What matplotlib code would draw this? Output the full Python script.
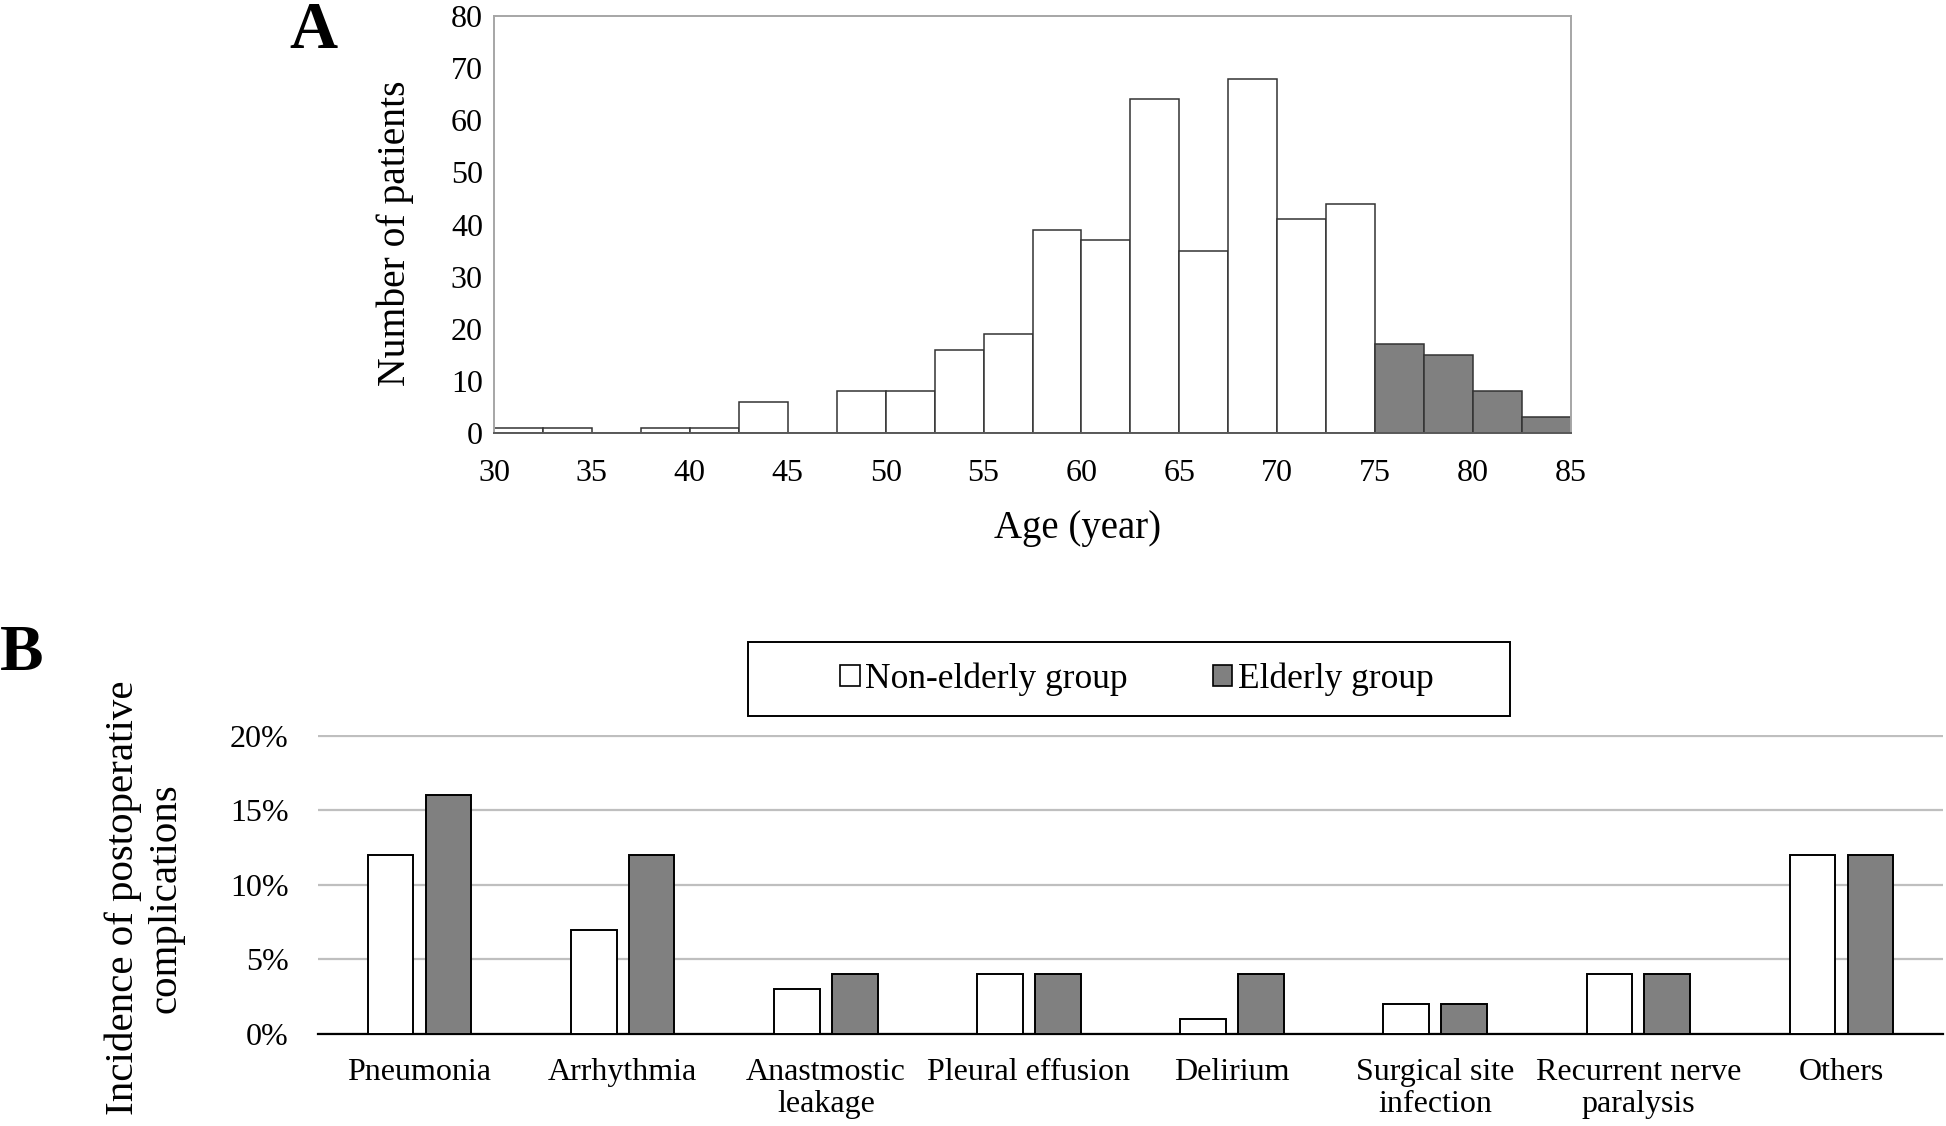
import numpy as np
import matplotlib
matplotlib.use("Agg")
import matplotlib.pyplot as plt
from matplotlib.patches import Patch, Rectangle
from matplotlib.ticker import FuncFormatter

plt.rcParams['font.family'] = ['Liberation Serif', 'DejaVu Serif']

# panel A: age histogram, 2.5-year bins from 30 to 85
age_bins = np.arange(30, 85, 2.5)
patients = [1, 1, 0, 1, 1, 6, 0, 8, 8, 16, 19, 39, 37, 64, 35, 68, 41, 44, 17, 15, 8, 3]
elderly_cut = 75
age_ticks = [30, 35, 40, 45, 50, 55, 60, 65, 70, 75, 80, 85]
count_ticks = [0, 10, 20, 30, 40, 50, 60, 70, 80]

# panel B: postoperative complications (%)
complications = ["Pneumonia", "Arrhythmia", "Anastmostic\nleakage", "Pleural effusion",
                 "Delirium", "Surgical site\ninfection", "Recurrent nerve\nparalysis", "Others"]
non_elderly = [12, 7, 3, 4, 1, 2, 4, 12]
elderly = [16, 12, 4, 4, 4, 2, 4, 12]
pct_ticks = [0, 5, 10, 15, 20]

W, H = 1946, 1126
GRAY = '#808080'
EDGE = '#333333'

fig = plt.figure(figsize=(W / 100, H / 100), dpi=100)

# ---- panel A
axA = fig.add_axes([494 / W, 1 - 433 / H, (1571 - 494) / W, (433 - 16) / H])
colors = ['white' if a < elderly_cut else GRAY for a in age_bins]
axA.bar(age_bins, patients, width=2.5, align='edge', color=colors,
        edgecolor=EDGE, linewidth=1.1, zorder=2)
axA.set_xlim(30, 85)
axA.set_ylim(0, 80)
axA.set_xticks(age_ticks)
axA.set_yticks(count_ticks)
axA.tick_params(axis='both', length=0, labelsize=23)
axA.tick_params(axis='x', pad=19)
axA.tick_params(axis='y', pad=8)
for s in ['left', 'top', 'right']:
    axA.spines[s].set_color('#A6A6A6')
    axA.spines[s].set_linewidth(1.4)
axA.spines['bottom'].set_color('#595959')
axA.spines['bottom'].set_linewidth(1.4)
axA.set_xlabel("Age (year)", fontsize=28)
axA.xaxis.set_label_coords(0.542, -0.185)
axA.set_ylabel("Number of patients", fontsize=28.5)
axA.yaxis.set_label_coords(-0.074, 0.48)

fig.text(313 / W, 1 - 32 / H, "A", ha='center', va='center', fontsize=48, weight='bold')

# ---- panel B
axB = fig.add_axes([318 / W, 1 - 1034 / H, (1943 - 318) / W, (1034 - 735) / H])
x = np.arange(len(complications))
bw = 0.225
off = 0.1425
axB.bar(x - off, non_elderly, width=bw, color='white', edgecolor='black', linewidth=1.4, zorder=3)
axB.bar(x + off, elderly, width=bw, color=GRAY, edgecolor='black', linewidth=1.4, zorder=3)
axB.set_xlim(-0.5, len(complications) - 0.5)
axB.set_ylim(0, 20.05)
axB.set_yticks(pct_ticks)
axB.yaxis.set_major_formatter(FuncFormatter(lambda v, p: f"{v:.0f}%"))
axB.set_xticks(x)
axB.set_xticklabels(complications, linespacing=1.15)
axB.tick_params(axis='both', length=0, labelsize=23)
axB.tick_params(axis='y', pad=21)
axB.tick_params(axis='x', pad=17)
axB.yaxis.grid(True, color='#BFBFBF', linewidth=1.6, zorder=0)
axB.set_axisbelow(True)
for s in ['left', 'top', 'right']:
    axB.spines[s].set_visible(False)
axB.spines['bottom'].set_color('black')
axB.spines['bottom'].set_linewidth(1.6)
axB.set_ylabel("Incidence of postoperative\ncomplications", fontsize=29.5, linespacing=1.2)
axB.yaxis.set_label_coords(-0.082, 0.455)

# legend with its own frame box
fig.patches.append(Rectangle((748 / W, 1 - 716 / H), (1510 - 748) / W, (716 - 642) / H,
                             transform=fig.transFigure, facecolor='white',
                             edgecolor='black', linewidth=1.4, zorder=1))
handles = [Patch(facecolor='white', edgecolor='black', linewidth=1.2),
           Patch(facecolor=GRAY, edgecolor='black', linewidth=1.2)]
leg = fig.legend(handles, ["Non-elderly group", "Elderly group"], ncol=2,
                 loc='center', bbox_to_anchor=((748 + 1510) / 2 / W + 0.004, 1 - 679 / H),
                 fontsize=25.5, frameon=False,
                 handlelength=0.55, handleheight=0.55, handletextpad=0.15,
                 columnspacing=2.4, borderpad=0, borderaxespad=0)
leg.set_zorder(2)

fig.text(0.0, 1 - 654 / H, "B", ha='left', va='center', fontsize=47, weight='bold')

fig.savefig("out.png", dpi=100, facecolor='white')
